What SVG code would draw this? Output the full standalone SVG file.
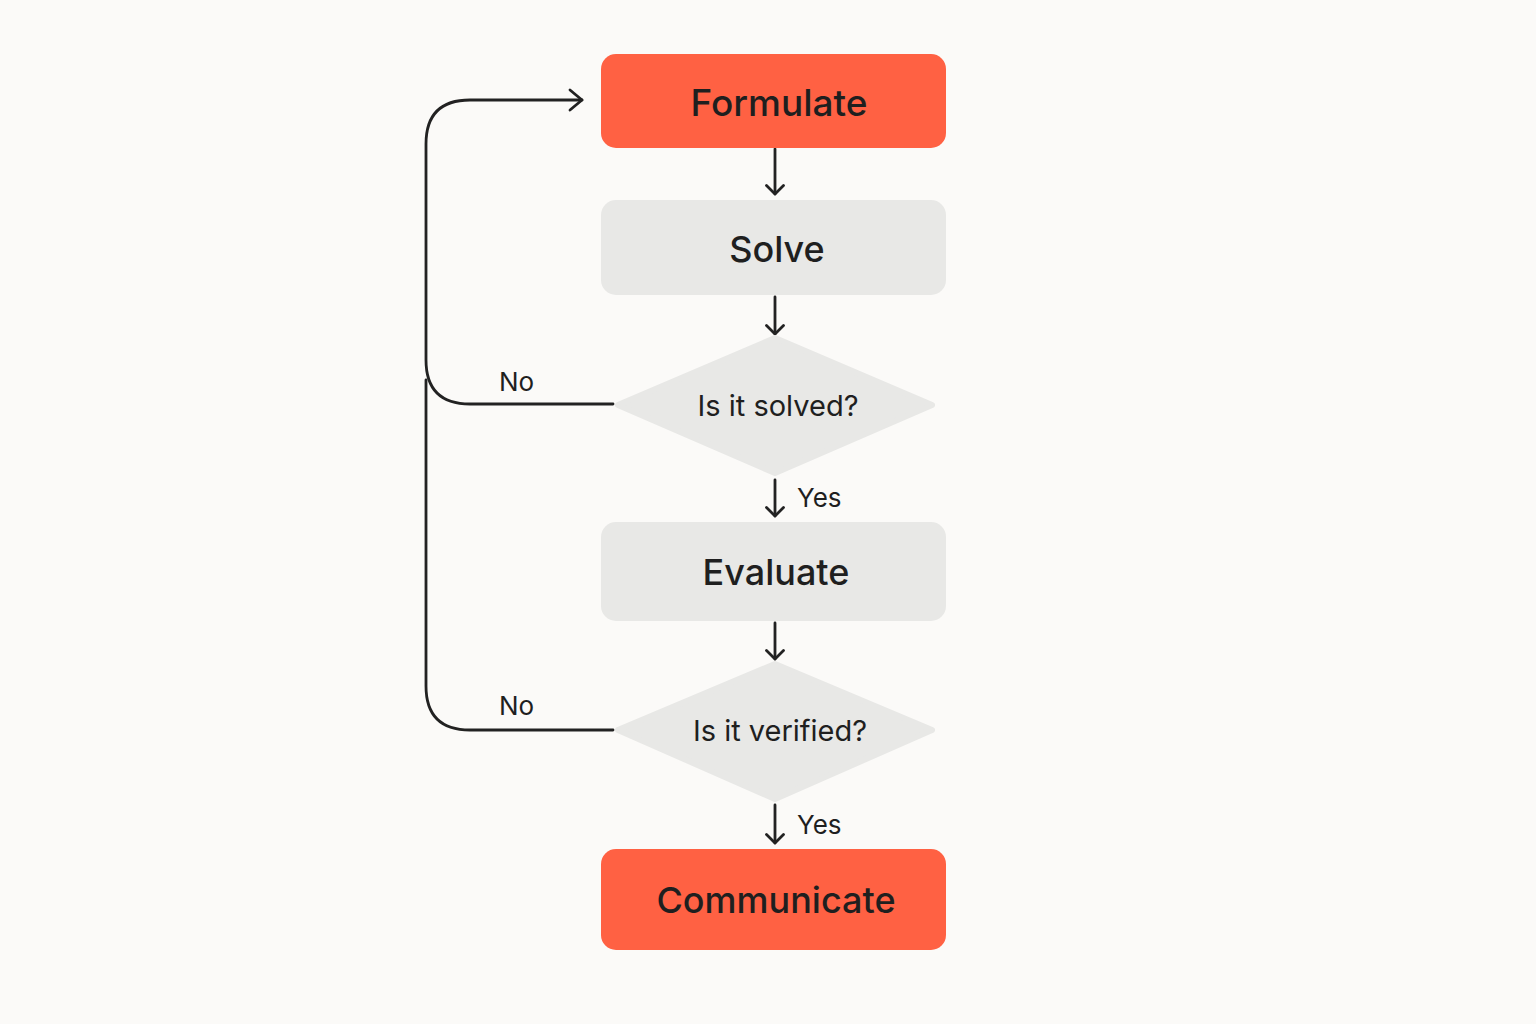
<svg xmlns="http://www.w3.org/2000/svg" width="1536" height="1024" viewBox="0 0 1536 1024">
<defs>
<style>
.accent{fill:#FF6143}
.grey{fill:#E8E8E6}
.big{font-family:Inter,"Noto Sans","Liberation Sans",sans-serif;font-size:36px;font-weight:500;fill:#1F1F1F;text-anchor:middle;dominant-baseline:central}
.mid{font-family:Inter,"Noto Sans","Liberation Sans",sans-serif;font-size:29px;font-weight:400;fill:#1F1F1F;text-anchor:middle;dominant-baseline:central}
.lbl{font-family:Inter,"Noto Sans","Liberation Sans",sans-serif;font-size:26px;font-weight:400;fill:#1F1F1F;dominant-baseline:central}
.ln{fill:none;stroke:#222;stroke-width:2.8;stroke-linecap:round;stroke-linejoin:round}
</style>
<marker id="ah" viewBox="0 0 12 20" refX="10" refY="10" markerWidth="12" markerHeight="20" markerUnits="userSpaceOnUse" orient="auto">
<path d="M1.5,1.5 L10,10 L1.5,18.5" fill="none" stroke="#222" stroke-width="2.8" stroke-linecap="round" stroke-linejoin="round"/>
</marker>
<marker id="ahb" viewBox="0 0 16 24" refX="14" refY="12" markerWidth="16" markerHeight="24" markerUnits="userSpaceOnUse" orient="auto">
<path d="M2,2 L14,12 L2,22" fill="none" stroke="#222" stroke-width="2.8" stroke-linecap="round" stroke-linejoin="round"/>
</marker>
</defs>
<rect width="1536" height="1024" fill="#FBFAF8"/>
<g id="connectors">
<path class="ln" d="M775,149 V194" marker-end="url(#ah)"/>
<path class="ln" d="M775,297 V334" marker-end="url(#ah)"/>
<path class="ln" d="M775,480 V516" marker-end="url(#ah)"/>
<path class="ln" d="M775,623 V659" marker-end="url(#ah)"/>
<path class="ln" d="M775,805 V843" marker-end="url(#ah)"/>
<path class="ln" d="M613,404 H470 Q426,404 426,360 V144 Q426,100 470,100 H582" marker-end="url(#ahb)"/>
<path class="ln" d="M613,730 H470 Q426,730 426,686 V380"/>
<text class="lbl" x="499" y="381">No</text>
<text class="lbl" x="499" y="705">No</text>
<text class="lbl" x="797" y="497">Yes</text>
<text class="lbl" x="797" y="824">Yes</text>
</g>
<g id="formulate">
<rect class="accent" x="601" y="54" width="345" height="94" rx="15"/>
<text class="big" x="779" y="102" style="font-size:37px">Formulate</text>
</g>
<g id="solve">
<rect class="grey" x="601" y="200" width="345" height="95" rx="15"/>
<text class="big" x="777" y="249">Solve</text>
</g>
<g id="solved">
<path class="grey" d="M775,338 L932,405 L775,473 L618,405 Z" stroke="#E8E8E6" stroke-width="6" stroke-linejoin="round"/>
<text class="mid" x="778" y="405">Is it solved?</text>
</g>
<g id="evaluate">
<rect class="grey" x="601" y="522" width="345" height="99" rx="15"/>
<text class="big" x="776" y="572">Evaluate</text>
</g>
<g id="verified">
<path class="grey" d="M775,664 L932,730 L775,799 L618,730 Z" stroke="#E8E8E6" stroke-width="6" stroke-linejoin="round"/>
<text class="mid" x="780" y="730">Is it verified?</text>
</g>
<g id="communicate">
<rect class="accent" x="601" y="849" width="345" height="101" rx="15"/>
<text class="big" x="776" y="900">Communicate</text>
</g>
</svg>
